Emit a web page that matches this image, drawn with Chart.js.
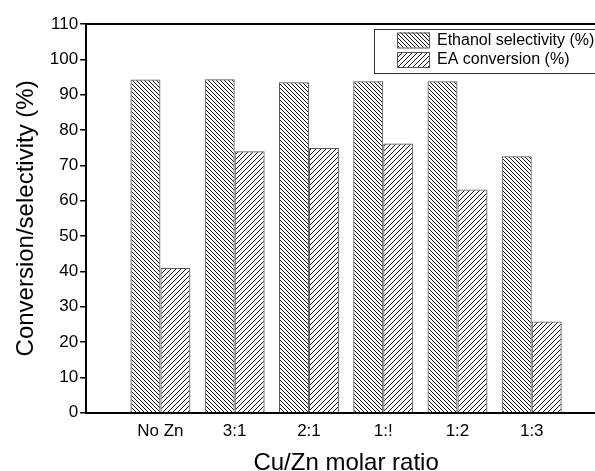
<!DOCTYPE html>
<html>
<head>
<meta charset="utf-8">
<script src="https://cdn.jsdelivr.net/npm/chart.js@4/dist/chart.umd.min.js"></script>
<style>
  html, body { margin: 0; padding: 0; background: #fff; overflow: hidden; }
  #wrap { width: 595px; height: 471px; overflow: hidden; }
</style>
</head>
<body>
<div id="wrap"><canvas id="bar-chart" width="620" height="471"></canvas></div>
<script>
// categories and series
const categories = ['No Zn', '3:1', '2:1', '1:!', '1:2', '1:3'];
const ethanolSelectivity = [94.3, 94.4, 93.5, 93.8, 93.8, 72.6];
const eaConversion = [41.0, 74.0, 74.9, 76.2, 63.2, 25.8];
const yMin = 0, yMax = 110, yStep = 10;

const FONT = "'Liberation Sans', Arial, Helvetica, sans-serif";

// hatch pattern, dir 'back' = \\\\ , 'fwd' = ////
function hatch(ctx, dir, size) {
    const c = document.createElement('canvas');
    c.width = c.height = size;
    const g = c.getContext('2d');
    g.strokeStyle = '#111';
    g.lineWidth = 1;
    g.beginPath();
    if (dir === 'back') {
        g.moveTo(-1, -1); g.lineTo(size + 1, size + 1);
        g.moveTo(-1, size - 1); g.lineTo(1, size + 1);
        g.moveTo(size - 1, -1); g.lineTo(size + 1, 1);
    } else {
        g.moveTo(-1, size + 1); g.lineTo(size + 1, -1);
        g.moveTo(-1, 1); g.lineTo(1, -1);
        g.moveTo(size - 1, size + 1); g.lineTo(size + 1, size - 1);
    }
    g.stroke();
    return ctx.createPattern(c, 'repeat');
}

// pad one empty slot each side, like the original axis range
const labels = [''].concat(categories, ['']);
const pad = arr => [null].concat(arr, [null]);

// frame (top / right lines) + legend box inside the plot
const framePlugin = {
    id: 'frame',
    afterDraw(chart) {
        const { ctx, chartArea: a } = chart;
        ctx.save();
        ctx.strokeStyle = '#000';
        ctx.lineWidth = 2;
        ctx.beginPath();
        ctx.moveTo(a.left, a.top);
        ctx.lineTo(a.right, a.top);
        ctx.lineTo(a.right, a.bottom);
        ctx.stroke();

        // legend
        const bx = 374, by = 29, bw = a.right - 4 - bx, bh = 44;
        ctx.fillStyle = '#fff';
        ctx.fillRect(bx, by, bw, bh);
        ctx.lineWidth = 1;
        ctx.strokeStyle = '#333';
        ctx.strokeRect(bx + 0.5, by + 0.5, bw, bh);
        ctx.font = '16px ' + FONT;
        ctx.textBaseline = 'middle';
        chart.data.datasets.forEach((ds, i) => {
            const sy = by + 3.5 + i * 19.5;
            ctx.fillStyle = '#fff';
            ctx.fillRect(397, sy, 32, 15);
            ctx.fillStyle = ds.backgroundColor;
            ctx.fillRect(397, sy, 32, 15);
            ctx.strokeStyle = '#555';
            ctx.strokeRect(397.5, sy + 0.5, 32, 15);
            ctx.fillStyle = '#000';
            ctx.fillText(ds.label, 437, sy + 8);
        });
        ctx.restore();
    }
};

window.addEventListener('DOMContentLoaded', () => {
    const ctx = document.getElementById('bar-chart').getContext('2d');
    new Chart(ctx, {
        type: 'bar',
        data: {
            labels: labels,
            datasets: [{
                label: 'Ethanol selectivity (%)',
                data: pad(ethanolSelectivity),
                backgroundColor: hatch(ctx, 'back', 4),
                borderColor: '#555',
                borderWidth: 1
            }, {
                label: 'EA conversion (%)',
                data: pad(eaConversion),
                backgroundColor: hatch(ctx, 'fwd', 5),
                borderColor: '#555',
                borderWidth: 1
            }]
        },
        options: {
            responsive: false,
            animation: false,
            devicePixelRatio: 1,
            categoryPercentage: 0.807,
            barPercentage: 1,
            layout: { padding: { left: 12, top: 24, right: 14, bottom: -7 } },
            plugins: { legend: { display: false }, tooltip: { enabled: false } },
            scales: {
                x: {
                    type: 'category',
                    offset: false,
                    grid: { display: true, drawOnChartArea: false, drawTicks: false },
                    border: { display: true, color: '#000', width: 2 },
                    ticks: { color: '#000', padding: 8, font: { family: FONT, size: 17 }, autoSkip: false, maxRotation: 0 },
                    title: { display: true, text: 'Cu/Zn molar ratio', color: '#000',
                             font: { family: FONT, size: 24 }, padding: { top: 0, bottom: 0 } }
                },
                y: {
                    min: yMin,
                    max: yMax,
                    grid: { drawOnChartArea: false, drawTicks: true, tickLength: 6, color: '#000', lineWidth: 1.5 },
                    border: { display: true, color: '#000', width: 2 },
                    ticks: { stepSize: yStep, color: '#000', padding: 2, font: { family: FONT, size: 17 } },
                    title: { display: true, text: 'Conversion/selectivity (%)', color: '#000',
                             font: { family: FONT, size: 24 }, padding: { top: 0, bottom: 7 } }
                }
            }
        },
        plugins: [framePlugin]
    });
});
</script>
</body>
</html>
